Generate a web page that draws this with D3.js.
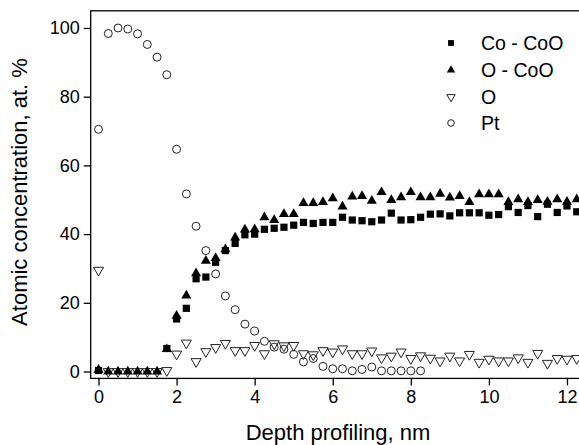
<!DOCTYPE html>
<html>
<head>
<meta charset="utf-8">
<script src="https://cdn.jsdelivr.net/npm/d3@7"></script>
<style>
  body { margin: 0; background: #fff; overflow: hidden; }
  svg { display: block; font-family: "Liberation Sans", Arial, sans-serif; }
</style>
</head>
<body>
<div id="chart"></div>
<script>
// depth step 0.25 nm
const depthStep = 0.25;

const coCoO = [0.3, null, null, null, null, null, null, 6.7, 15.3, 18.4, 27.0, 27.5, 31.8, 35.2, 37.3, 39.8,
  40.0, 41.4, 41.7, 42.0, 42.6, 43.4, 43.1, 43.4, 43.4, 44.9, 44.1, 43.9, 43.6, 44.1, 46.1, 44.1,
  44.2, 44.9, 45.8, 45.9, 45.3, 46.2, 46.2, 46.2, 45.5, 45.7, 48.0, 46.3, 48.3, 45.1, 48.7, 46.3, 48.2, 46.5];

const oCoO = [0.5, 0, 0, 0, 0, 0, 0, 6.5, 16.2, 22.1, 28.6, 32.2, 33.0, 35.6, 39.0, 41.3,
  41.4, 44.9, 44.1, 45.8, 45.8, 49.0, 49.0, 49.3, 50.4, 48.0, 50.9, 51.1, 49.7, 52.2, 49.9, 50.7,
  52.2, 50.7, 50.7, 51.7, 50.6, 51.1, 49.3, 51.6, 51.6, 51.6, 49.3, 50.1, 49.3, 49.9, 49.4, 50.1, 49.4, 50.1];

const oxygen = [29.5, 0, 0, 0, 0, 0, 0, 0.3, 5.1, 8.3, 2.9, 5.8, 7.0, 8.2, 6.1, 6.1,
  7.6, 5.2, 8.1, 7.5, 7.6, 5.2, 4.9, 6.1, 5.7, 6.6, 5.2, 5.2, 6.0, 4.0, 4.5, 5.7,
  3.8, 4.6, 3.9, 3.1, 4.5, 3.1, 5.0, 2.7, 3.6, 3.1, 3.1, 4.0, 2.7, 5.3, 2.4, 3.8, 3.6, 3.8];

const pt = [70.5, 98.4, 100, 99.7, 98.3, 95.2, 91.5, 86.4, 64.7, 51.7, 42.3, 35.2, 28.4, 22.0, 18.0, 13.8,
  11.8, 8.8, 7.1, 6.5, 5.0, 2.8, 3.8, 1.5, 0.8, 0.8, 0.2, 0.6, 1.3, 0.2, 0.2, 0.2, 0.2, 0.2];

const seriesNames = ["Co - CoO", "O - CoO", "O", "Pt"];
const xTicks = [0, 2, 4, 6, 8, 10, 12];
const yTicks = [0, 20, 40, 60, 80, 100];

const W = 579, H = 445;
const svg = d3.select("#chart").append("svg").attr("width", W).attr("height", H);

const x = d3.scaleLinear().domain([-0.2, 12.4]).range([90.7, 582.6]);
const y = d3.scaleLinear().domain([-2, 105]).range([378.4, 10.8]);

const toPoints = (arr) => arr.map((v, i) => ({ x: i * depthStep, y: v })).filter(d => d.y !== null);

// frame
svg.append("rect")
    .attr("x", x(-0.2)).attr("y", y(105))
    .attr("width", x(12.4) - x(-0.2)).attr("height", y(-2) - y(105))
    .attr("fill", "none").attr("stroke", "#000").attr("stroke-width", 1.3);

// x axis
const xAxis = svg.append("g").attr("transform", `translate(0,${y(-2)})`);
xAxis.call(d3.axisBottom(x).tickValues(d3.range(1, 13, 2)).tickSize(4).tickFormat(""));
xAxis.call(d3.axisBottom(x).tickValues(xTicks).tickSize(7).tickPadding(5).tickFormat(d3.format("d")));
xAxis.selectAll(".domain").remove();
xAxis.selectAll("line").attr("stroke-width", 1.3);
xAxis.selectAll("text").attr("font-size", 18).attr("font-family", "Liberation Sans, Arial, sans-serif").attr("fill", "#000");

// y axis
const yAxis = svg.append("g").attr("transform", `translate(${x(-0.2)},0)`);
yAxis.call(d3.axisLeft(y).tickValues([10, 30, 50, 70, 90]).tickSize(4).tickFormat(""));
yAxis.call(d3.axisLeft(y).tickValues(yTicks).tickSize(7).tickPadding(4).tickFormat(d3.format("d")));
yAxis.selectAll(".domain").remove();
yAxis.selectAll("line").attr("stroke-width", 1.3);
yAxis.selectAll("text").attr("font-size", 18).attr("font-family", "Liberation Sans, Arial, sans-serif").attr("fill", "#000");

// axis titles
svg.append("text")
    .attr("x", 338).attr("y", 440)
    .attr("text-anchor", "middle")
    .attr("font-size", 22)
    .text("Depth profiling, nm");

svg.append("text")
    .attr("transform", `translate(27,192) rotate(-90)`)
    .attr("text-anchor", "middle")
    .attr("font-size", 22)
    .text("Atomic concentration, at. %");

// markers
const sq = d3.symbol().type(d3.symbolSquare).size(52);
const tri = d3.symbol().type(d3.symbolTriangle).size(44);

const plot = svg.append("g");

plot.selectAll(".pt").data(toPoints(pt)).join("circle")
    .attr("cx", d => x(d.x)).attr("cy", d => y(d.y)).attr("r", 4)
    .attr("fill", "none").attr("stroke", "#222").attr("stroke-width", 1);

plot.selectAll(".o").data(toPoints(oxygen)).join("path")
    .attr("d", tri)
    .attr("transform", d => `translate(${x(d.x)},${y(d.y)}) rotate(180)`)
    .attr("fill", "none").attr("stroke", "#222").attr("stroke-width", 1);

plot.selectAll(".co").data(toPoints(coCoO)).join("path")
    .attr("d", sq)
    .attr("transform", d => `translate(${x(d.x)},${y(d.y)})`)
    .attr("fill", "#000");

plot.selectAll(".oco").data(toPoints(oCoO)).join("path")
    .attr("d", tri)
    .attr("transform", d => `translate(${x(d.x)},${y(d.y)})`)
    .attr("fill", "#000");

// legend
const legendRows = [43, 70, 97, 123];
const legend = svg.append("g");
legendRows.forEach((ly, i) => {
    const lx = 451;
    if (i === 0) legend.append("path").attr("d", d3.symbol().type(d3.symbolSquare).size(34)).attr("transform", `translate(${lx},${ly})`).attr("fill", "#000");
    if (i === 1) legend.append("path").attr("d", d3.symbol().type(d3.symbolTriangle).size(30)).attr("transform", `translate(${lx},${ly})`).attr("fill", "#000");
    if (i === 2) legend.append("path").attr("d", d3.symbol().type(d3.symbolTriangle).size(30)).attr("transform", `translate(${lx},${ly}) rotate(180)`).attr("fill", "none").attr("stroke", "#222");
    if (i === 3) legend.append("circle").attr("cx", lx).attr("cy", ly).attr("r", 3.3).attr("fill", "none").attr("stroke", "#222");
    legend.append("text").attr("x", 481).attr("y", ly + 7).attr("font-size", 19.5).text(seriesNames[i]);
});
</script>
</body>
</html>
